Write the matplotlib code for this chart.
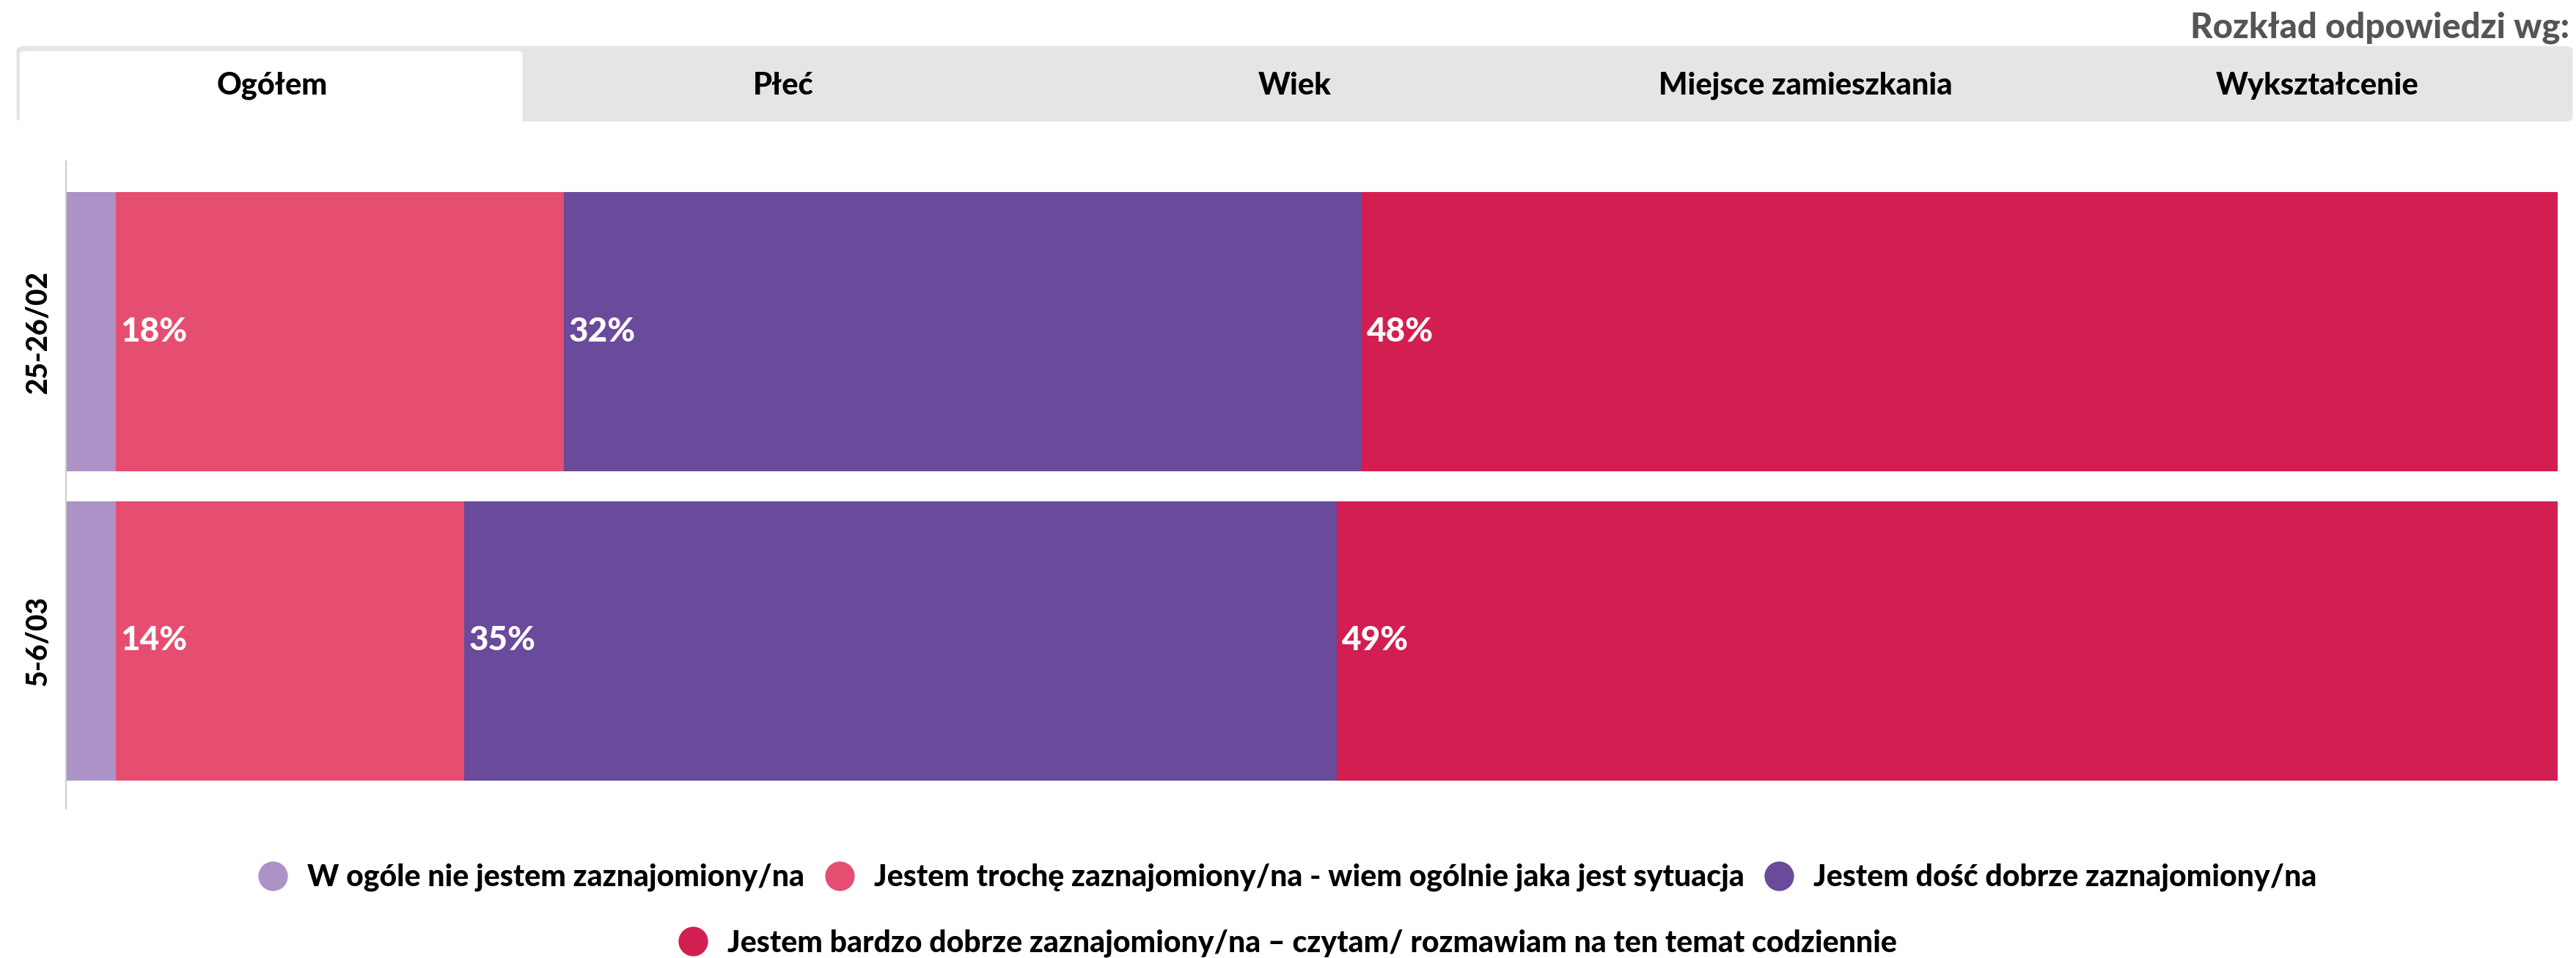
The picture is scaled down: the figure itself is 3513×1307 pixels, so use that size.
import numpy as np
import matplotlib.pyplot as plt
from matplotlib.patches import FancyBboxPatch
from matplotlib.lines import Line2D

plt.rcParams['font.family'] = ['Lato', 'DejaVu Sans']

# data
periods = ["25-26/02", "5-6/03"]
answers = [
    "W ogóle nie jestem zaznajomiony/na",
    "Jestem trochę zaznajomiony/na - wiem ogólnie jaka jest sytuacja",
    "Jestem dość dobrze zaznajomiony/na",
    "Jestem bardzo dobrze zaznajomiony/na – czytam/ rozmawiam na ten temat codziennie",
]
not_at_all = [2, 2]
a_little = [18, 14]
fairly_well = [32, 35]
very_well = [48, 49]
tabs = ["Ogółem", "Płeć", "Wiek", "Miejsce zamieszkania", "Wykształcenie"]

colors = ["#AC92C6", "#E54E70", "#6A4A9B", "#D31E51"]
series = [not_at_all, a_little, fairly_well, very_well]

W, H = 3513, 1307
fig = plt.figure(figsize=(W / 100, H / 100), dpi=100)
heavy = "black"

# tab strip on top
fx = lambda px: px / 1568
fy = lambda py: 1 - py / 583
fig.patches.append(FancyBboxPatch((fx(10), fy(74)), fx(1566) - fx(10), fy(28) - fy(74),
                                  boxstyle="round,pad=0,rounding_size=0.004",
                                  transform=fig.transFigure, facecolor="#E5E5E5",
                                  edgecolor="none"))
fig.patches.append(FancyBboxPatch((fx(12), fy(80)), fx(318) - fx(12), fy(31) - fy(80),
                                  boxstyle="round,pad=0,rounding_size=0.003",
                                  transform=fig.transFigure, facecolor="white",
                                  edgecolor="none"))
tab_w = (1566 - 10) / len(tabs)
for i, t in enumerate(tabs):
    fig.text(fx(10 + tab_w * (i + 0.5)), fy(52), t, ha="center", va="center",
             fontsize=30, fontweight=heavy, color="black")
fig.text(fx(1564), fy(17), "Rozkład odpowiedzi wg:", ha="right", va="center",
         fontsize=34, fontweight=heavy, color="#555555")

# bars
ax = fig.add_axes([fx(40), fy(492), fx(1557) - fx(40), fy(98) - fy(492)])
y = np.arange(len(periods))
left = np.zeros(len(periods))
for vals, c in zip(series, colors):
    ax.barh(y, vals, left=left, height=0.904, color=c, edgecolor="none")
    if c != colors[0]:
        for yi, (l, v) in enumerate(zip(left, vals)):
            ax.text(l + 0.2, yi, f"{v}%", ha="left", va="center", color="white",
                    fontsize=33, fontweight=heavy)
    left += np.array(vals)

ax.set_xlim(0, 100)
ax.set_ylim(1.543, -0.553)
ax.set_yticks(y)
ax.set_yticklabels(periods, rotation=90, va="center", fontsize=28, fontweight=heavy)
ax.tick_params(axis="y", length=0, pad=14)
ax.set_xticks([])
for s in ["top", "right", "bottom"]:
    ax.spines[s].set_visible(False)
ax.spines["left"].set_color("#CCCCCC")
ax.spines["left"].set_linewidth(1.5)

# legend
handles = [Line2D([], [], marker="o", linestyle="", markersize=29,
                  markerfacecolor=c, markeredgecolor="none") for c in colors]
leg_kw = dict(frameon=False, handlelength=0.9, handletextpad=0.7, columnspacing=0.7,
              prop={"size": 29.5, "weight": heavy}, borderaxespad=0, borderpad=0)
fig.legend(handles[:3], answers[:3], ncol=3, loc="center",
           bbox_to_anchor=(0.5, fy(534)), **leg_kw)
fig.legend(handles[3:], answers[3:], ncol=1, loc="center",
           bbox_to_anchor=(0.5, fy(574)), **leg_kw)

fig.savefig("out.png", dpi=100)
